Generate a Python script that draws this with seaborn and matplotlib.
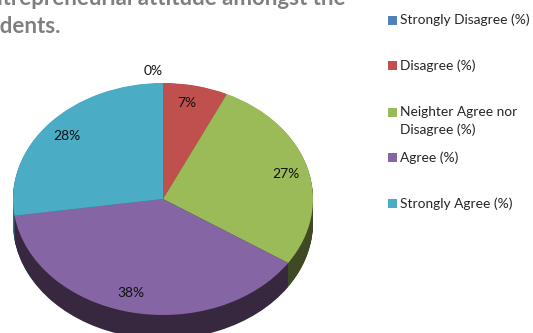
import numpy as np
import matplotlib
matplotlib.use("Agg")
import matplotlib.pyplot as plt
from matplotlib.patches import Rectangle, Wedge
import seaborn as sns

categories = ["Strongly Disagree (%)", "Disagree (%)", "Neighter Agree nor\nDisagree (%)",
              "Agree (%)", "Strongly Agree (%)"]
values = [0, 7, 27.3, 38.4, 27.3]
value_labels = ["0%", "7%", "27%", "38%", "28%"]

top_colors = sns.color_palette(["#4F81BD", "#C0504D", "#9BBB59", "#8565A3", "#4BACC6"])
side_colors = sns.color_palette(["#2A4565", "#66292A", "#3F4A24", "#37283F", "#2C6E80"])

W, H = 533, 333
CX, CY, RX, RY, DEPTH = 163, 199, 150, 116, 24

sns.set_theme(style="white")
plt.rcParams["font.family"] = ["Lato", "DejaVu Sans"]

fig = plt.figure(figsize=(W / 100, H / 100), dpi=100, facecolor="white")
ax = fig.add_axes([0, 0, 1, 1])

def dx(px):
    return (px - CX) / RX

def dy(py):
    return (CY - py) / RY

d = DEPTH / RY
# extruded side: stacked pies, from the bottom up
for off in np.linspace(d, 0.004, 30):
    ax.pie(values, colors=side_colors, startangle=90, counterclock=False,
           center=(0, -off), radius=1, frame=False, wedgeprops={"linewidth": 0})

# lighter left part of the purple side
start = 90 - 360 * sum(values[:4]) / sum(values)
end = 90 - 360 * sum(values[:3]) / sum(values)
grad = np.zeros((1, 256, 4))
rgb = matplotlib.colors.to_rgb("#6E5A8E")
grad[..., 0], grad[..., 1], grad[..., 2] = rgb
grad[..., 3] = np.clip(1 - np.linspace(0, 1, 256), 0, 1)
im = ax.imshow(grad, extent=(-1, -0.1, -1.3, -0.1), aspect="auto", zorder=0.5, interpolation="bilinear")
clip = Wedge((0, -d), 1, start, end, transform=ax.transData)
im.set_clip_path(clip)

# top face
wedges, _ = ax.pie(values, colors=top_colors, startangle=90, counterclock=False,
                   center=(0, 0), radius=1, frame=False, wedgeprops={"linewidth": 0})
for w in wedges:
    w.set_zorder(2)

ax.set_aspect("auto")
ax.set_xlim(dx(0), dx(W))
ax.set_ylim(dy(H), dy(0))
ax.axis("off")

label_px = [(153, 71), (187, 103), (286, 174), (131, 293), (67, 136)]
for txt, (x, y) in zip(value_labels, label_px):
    ax.text(dx(x), dy(y), txt, ha="center", va="center", fontsize=10, color="#111111", zorder=3)

# title, cut by the image edges like the reference
fig.text(346 / W, 1 - 5 / H, "entrepreneurial attitude amongst the", ha="right", va="baseline",
         color="#7F7F7F", fontweight="bold", fontsize=16)
fig.text(61 / W, 1 - 33 / H, "students.", ha="right", va="baseline",
         color="#7F7F7F", fontweight="bold", fontsize=16)

# legend
legend_y = [20.5, 65.5, 112, 157.5, 203.5]
for name, col, y in zip(categories, top_colors, legend_y):
    fig.add_artist(Rectangle((388 / W, 1 - (y + 4.5) / H), 9 / W, 9 / H, transform=fig.transFigure,
                             facecolor=col, edgecolor="none"))
    for i, line in enumerate(name.split("\n")):
        fig.text(400 / W, 1 - (y + 4 + 18.5 * i) / H, line, ha="left", va="baseline", fontsize=9.9,
                 color="#262626")

fig.savefig("out.png", dpi=100)
